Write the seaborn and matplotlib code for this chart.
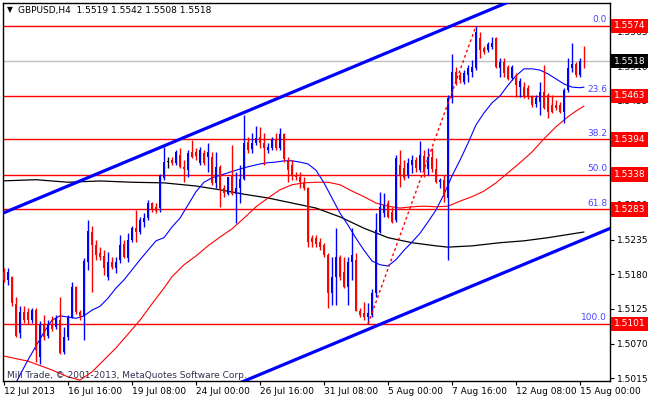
import matplotlib
matplotlib.use("Agg")
import matplotlib.pyplot as plt
import matplotlib.transforms as mtransforms
import numpy as np
import pandas as pd
import seaborn as sns

sns.set_style("white")
plt.rcParams['font.family'] = ['DejaVu Sans']

# ---------------- data (GBPUSD H4, bar index 0 = 12 Jul 2013 00:00) ----------------
opens = [1.5184, 1.5171, 1.5176, 1.5133, 1.5086, 1.5120, 1.5120, 1.5107, 1.5123, 1.5049,
         1.5099, 1.5082, 1.5101, 1.5096, 1.5107, 1.5057, 1.5081, 1.5112, 1.5160, 1.5120,
         1.5114, 1.5200, 1.5247, 1.5226, 1.5214, 1.5209, 1.5176, 1.5200, 1.5190, 1.5203,
         1.5228, 1.5206, 1.5234, 1.5253, 1.5247, 1.5263, 1.5269, 1.5293, 1.5287, 1.5285,
         1.5333, 1.5358, 1.5361, 1.5356, 1.5369, 1.5350, 1.5345, 1.5374, 1.5374, 1.5356,
         1.5372, 1.5366, 1.5366, 1.5325, 1.5350, 1.5317, 1.5307, 1.5337, 1.5307, 1.5317,
         1.5331, 1.5390, 1.5379, 1.5388, 1.5398, 1.5388, 1.5377, 1.5380, 1.5395, 1.5380,
         1.5403, 1.5361, 1.5353, 1.5337, 1.5334, 1.5325, 1.5317, 1.5237, 1.5237, 1.5231,
         1.5226, 1.5211, 1.5150, 1.5176, 1.5207, 1.5184, 1.5160, 1.5200, 1.5203, 1.5121,
         1.5118, 1.5112, 1.5115, 1.5150, 1.5247, 1.5277, 1.5293, 1.5279, 1.5266, 1.5353,
         1.5349, 1.5337, 1.5353, 1.5361, 1.5345, 1.5368, 1.5347, 1.5366, 1.5347, 1.5326,
         1.5330, 1.5301, 1.5460, 1.5501, 1.5496, 1.5485, 1.5496, 1.5501, 1.5507, 1.5555,
         1.5539, 1.5536, 1.5541, 1.5555, 1.5507, 1.5517, 1.5509, 1.5491, 1.5491, 1.5477,
         1.5477, 1.5476, 1.5461, 1.5450, 1.5453, 1.5469, 1.5464, 1.5449, 1.5449, 1.5449,
         1.5437, 1.5472, 1.5507, 1.5514, 1.5496, 1.5519]
highs = [1.5190, 1.5190, 1.5177, 1.5144, 1.5129, 1.5129, 1.5126, 1.5126, 1.5126, 1.5105,
         1.5115, 1.5107, 1.5114, 1.5115, 1.5144, 1.5096, 1.5115, 1.5168, 1.5161, 1.5123,
         1.5206, 1.5266, 1.5256, 1.5234, 1.5223, 1.5218, 1.5215, 1.5207, 1.5207, 1.5242,
         1.5234, 1.5245, 1.5256, 1.5282, 1.5271, 1.5277, 1.5298, 1.5295, 1.5293, 1.5339,
         1.5382, 1.5366, 1.5366, 1.5377, 1.5380, 1.5361, 1.5377, 1.5393, 1.5380, 1.5382,
         1.5377, 1.5388, 1.5374, 1.5374, 1.5353, 1.5322, 1.5334, 1.5385, 1.5342, 1.5353,
         1.5433, 1.5398, 1.5404, 1.5415, 1.5414, 1.5404, 1.5388, 1.5398, 1.5404, 1.5412,
         1.5404, 1.5366, 1.5361, 1.5342, 1.5342, 1.5334, 1.5318, 1.5242, 1.5242, 1.5237,
         1.5229, 1.5214, 1.5207, 1.5253, 1.5211, 1.5207, 1.5207, 1.5253, 1.5214, 1.5126,
         1.5136, 1.5134, 1.5157, 1.5277, 1.5310, 1.5309, 1.5298, 1.5287, 1.5369, 1.5377,
         1.5361, 1.5364, 1.5369, 1.5366, 1.5391, 1.5377, 1.5380, 1.5380, 1.5364, 1.5333,
         1.5337, 1.5464, 1.5530, 1.5509, 1.5501, 1.5504, 1.5512, 1.5520, 1.5574, 1.5564,
         1.5542, 1.5549, 1.5557, 1.5557, 1.5523, 1.5523, 1.5512, 1.5512, 1.5499, 1.5491,
         1.5485, 1.5480, 1.5464, 1.5464, 1.5485, 1.5512, 1.5467, 1.5464, 1.5456, 1.5453,
         1.5476, 1.5523, 1.5547, 1.5517, 1.5523, 1.5542]
lows = [1.5168, 1.5163, 1.5129, 1.5081, 1.5079, 1.5102, 1.5101, 1.5102, 1.5041, 1.5038,
        1.5076, 1.5079, 1.5090, 1.5093, 1.5053, 1.5053, 1.5076, 1.5110, 1.5117, 1.5107,
        1.5076, 1.5187, 1.5152, 1.5203, 1.5203, 1.5179, 1.5171, 1.5189, 1.5182, 1.5198,
        1.5206, 1.5200, 1.5231, 1.5231, 1.5244, 1.5255, 1.5266, 1.5279, 1.5277, 1.5279,
        1.5330, 1.5349, 1.5353, 1.5353, 1.5349, 1.5326, 1.5334, 1.5364, 1.5361, 1.5353,
        1.5353, 1.5342, 1.5322, 1.5317, 1.5287, 1.5303, 1.5306, 1.5306, 1.5261, 1.5293,
        1.5330, 1.5372, 1.5372, 1.5385, 1.5380, 1.5353, 1.5372, 1.5377, 1.5377, 1.5377,
        1.5358, 1.5326, 1.5330, 1.5330, 1.5317, 1.5314, 1.5223, 1.5223, 1.5223, 1.5218,
        1.5207, 1.5126, 1.5131, 1.5131, 1.5171, 1.5158, 1.5131, 1.5171, 1.5121, 1.5112,
        1.5107, 1.5101, 1.5112, 1.5144, 1.5245, 1.5271, 1.5269, 1.5261, 1.5263, 1.5318,
        1.5330, 1.5333, 1.5341, 1.5342, 1.5342, 1.5334, 1.5337, 1.5342, 1.5325, 1.5317,
        1.5295, 1.5203, 1.5452, 1.5480, 1.5484, 1.5482, 1.5485, 1.5493, 1.5504, 1.5523,
        1.5530, 1.5533, 1.5537, 1.5507, 1.5493, 1.5493, 1.5488, 1.5488, 1.5461, 1.5461,
        1.5460, 1.5458, 1.5445, 1.5445, 1.5433, 1.5442, 1.5428, 1.5436, 1.5441, 1.5436,
        1.5420, 1.5469, 1.5501, 1.5493, 1.5493, 1.5508]
closes = [1.5171, 1.5184, 1.5134, 1.5082, 1.5120, 1.5107, 1.5107, 1.5123, 1.5060, 1.5099,
          1.5081, 1.5101, 1.5093, 1.5110, 1.5055, 1.5081, 1.5112, 1.5160, 1.5120, 1.5114,
          1.5201, 1.5249, 1.5226, 1.5211, 1.5207, 1.5190, 1.5200, 1.5192, 1.5200, 1.5226,
          1.5207, 1.5234, 1.5253, 1.5247, 1.5266, 1.5269, 1.5293, 1.5282, 1.5280, 1.5337,
          1.5358, 1.5358, 1.5356, 1.5374, 1.5350, 1.5347, 1.5372, 1.5366, 1.5368, 1.5377,
          1.5356, 1.5374, 1.5325, 1.5350, 1.5314, 1.5309, 1.5334, 1.5307, 1.5317, 1.5331,
          1.5388, 1.5377, 1.5388, 1.5396, 1.5388, 1.5380, 1.5382, 1.5395, 1.5380, 1.5403,
          1.5363, 1.5345, 1.5337, 1.5334, 1.5326, 1.5317, 1.5231, 1.5231, 1.5228, 1.5223,
          1.5211, 1.5150, 1.5176, 1.5207, 1.5176, 1.5160, 1.5200, 1.5211, 1.5121, 1.5115,
          1.5112, 1.5118, 1.5150, 1.5250, 1.5287, 1.5290, 1.5271, 1.5263, 1.5364, 1.5337,
          1.5333, 1.5356, 1.5361, 1.5349, 1.5369, 1.5344, 1.5366, 1.5347, 1.5326, 1.5330,
          1.5303, 1.5460, 1.5501, 1.5485, 1.5488, 1.5499, 1.5507, 1.5509, 1.5564, 1.5536,
          1.5533, 1.5545, 1.5547, 1.5509, 1.5517, 1.5499, 1.5490, 1.5509, 1.5480, 1.5487,
          1.5461, 1.5461, 1.5449, 1.5460, 1.5469, 1.5444, 1.5437, 1.5437, 1.5444, 1.5437,
          1.5472, 1.5507, 1.5514, 1.5496, 1.5518, 1.5518]

# moving averages (bar index, value)
ma_fast_idx = [2, 4, 6, 8, 10, 12, 14, 16, 18, 20, 22, 24, 26, 28, 30, 32, 34, 36, 38, 40,
               42, 44, 46, 48, 50, 52, 54, 56, 58, 60, 62, 64, 66, 68, 70, 72, 74, 76, 78, 80,
               82, 84, 86, 88, 90, 92, 94, 96, 98, 100, 102, 104, 106, 108, 110, 112, 114, 116,
               118, 120, 122, 124, 126, 128, 130, 132, 134, 136, 138, 140, 142, 144, 145]
ma_fast = [1.4996, 1.5020, 1.5044, 1.5066, 1.5088, 1.5107, 1.5114, 1.5112, 1.5110, 1.5114,
           1.5123, 1.5129, 1.5142, 1.5158, 1.5171, 1.5187, 1.5203, 1.5218, 1.5233, 1.5238,
           1.5255, 1.5269, 1.5290, 1.5311, 1.5326, 1.5333, 1.5337, 1.5341, 1.5345, 1.5349,
           1.5352, 1.5355, 1.5357, 1.5358, 1.5360, 1.5360, 1.5358, 1.5355, 1.5345, 1.5325,
           1.5301, 1.5277, 1.5258, 1.5237, 1.5218, 1.5201, 1.5195, 1.5193, 1.5203, 1.5218,
           1.5231, 1.5245, 1.5263, 1.5282, 1.5307, 1.5336, 1.5361, 1.5388, 1.5417, 1.5436,
           1.5452, 1.5463, 1.5480, 1.5495, 1.5506, 1.5506, 1.5504, 1.5498, 1.5490, 1.5482,
           1.5477, 1.5476, 1.5477]
ma_mid_idx = [0, 6, 12, 16, 19, 22, 25, 28, 31, 34, 37, 40, 42, 45, 48, 51, 54, 57, 60, 63,
              66, 69, 72, 75, 78, 81, 84, 87, 90, 93, 96, 99, 102, 105, 108, 111, 114, 117,
              120, 123, 126, 129, 132, 135, 138, 141, 143, 145]
ma_mid = [1.5050, 1.5042, 1.5028, 1.5017, 1.5012, 1.5025, 1.5044, 1.5063, 1.5085, 1.5107,
          1.5133, 1.5158, 1.5176, 1.5195, 1.5209, 1.5225, 1.5239, 1.5252, 1.5269, 1.5287,
          1.5301, 1.5314, 1.5322, 1.5325, 1.5326, 1.5326, 1.5322, 1.5312, 1.5303, 1.5293,
          1.5288, 1.5285, 1.5287, 1.5288, 1.5287, 1.5288, 1.5296, 1.5303, 1.5312, 1.5325,
          1.5341, 1.5357, 1.5374, 1.5395, 1.5414, 1.5430, 1.5439, 1.5447]
ma_slow_idx = [-1, 8, 16, 24, 32, 40, 48, 54, 60, 66, 72, 78, 84, 90, 96, 102, 108, 111,
               117, 124, 130, 136, 142, 145]
ma_slow = [1.5328, 1.5330, 1.5326, 1.5328, 1.5326, 1.5325, 1.5320, 1.5314, 1.5307, 1.5301,
           1.5293, 1.5285, 1.5271, 1.5253, 1.5238, 1.5230, 1.5225, 1.5223, 1.5225, 1.5230,
           1.5233, 1.5238, 1.5244, 1.5247]

# channel trend lines and Fibonacci swing
upper_channel_idx = [-1, 131]
upper_channel = [1.5275, 1.5625]
lower_channel_idx = [58, 152]
lower_channel = [1.5005, 1.5254]
fib_swing_idx = [91, 118]
fib_swing = [1.5101, 1.5574]

fib_ratios = ["0.0", "23.6", "38.2", "50.0", "61.8", "100.0"]
fib_prices = [1.5574, 1.5463, 1.5394, 1.5338, 1.5283, 1.5101]
current_price = 1.5518

price_ticks = [1.5015, 1.5070, 1.5125, 1.5180, 1.5235, 1.5290, 1.5345, 1.5400,
               1.5455, 1.5510, 1.5565]
date_ticks = [0, 16, 32, 48, 64, 80, 96, 112, 128, 144]
date_labels = ["12 Jul 2013", "16 Jul 16:00", "19 Jul 08:00", "24 Jul 00:00",
               "26 Jul 16:00", "31 Jul 08:00", "5 Aug 00:00", "7 Aug 16:00",
               "12 Aug 08:00", "15 Aug 00:00"]

title = "GBPUSD,H4  1.5519 1.5542 1.5508 1.5518"
footer = "Mill Trade, \u00a9 2001-2013, MetaQuotes Software Corp."

# ---------------- figure ----------------
W, H = 650, 400
fig = plt.figure(figsize=(W / 100, H / 100), dpi=100)
fig.patch.set_facecolor("white")
ax = fig.add_axes([3 / W, 19 / H, 607 / W, 378 / H])
ax.set_facecolor("white")

BLUE = "#0000FF"
RED = "#FF0000"

df = pd.DataFrame({"o": opens, "h": highs, "l": lows, "c": closes})
df["i"] = np.arange(len(df))
cols = np.where(df["c"] > df["o"], BLUE, np.where(df["c"] < df["o"], RED, "#000000"))
body_lo = np.minimum(df["o"], df["c"])
body_h = np.maximum(np.abs(df["c"] - df["o"]), 0.00012)

# fib & current price lines
for p in fib_prices:
    ax.axhline(p, color=RED, lw=1.0, zorder=1)
ax.axhline(current_price, color="#C0C0C0", lw=1.0, zorder=1)

# candles
ax.vlines(df["i"], df["l"], df["h"], colors=cols, lw=1.0, zorder=3)
ax.bar(df["i"], body_h, bottom=body_lo, width=0.72, color=cols, lw=0, zorder=4)

# moving averages via seaborn
sns.lineplot(x=ma_slow_idx, y=ma_slow, color="#000000", lw=0.9, ax=ax, zorder=2)
sns.lineplot(x=ma_mid_idx, y=ma_mid, color=RED, lw=0.8, ax=ax, zorder=2)
sns.lineplot(x=ma_fast_idx, y=ma_fast, color=BLUE, lw=0.8, ax=ax, zorder=2)

# channel & fib swing
ax.plot(upper_channel_idx, upper_channel, color=BLUE, lw=2.3, zorder=5, solid_capstyle="butt")
ax.plot(lower_channel_idx, lower_channel, color=BLUE, lw=2.3, zorder=5, solid_capstyle="butt")
ax.plot(fib_swing_idx, fib_swing, color=RED, lw=1.0, ls=(0, (2, 2)), zorder=5)

ax.set_xlim(-0.25, 151.5)
ax.set_ylim(1.50105, 1.56105)

# axes styling
for s in ax.spines.values():
    s.set_color("black")
    s.set_linewidth(1.0)
ax.yaxis.tick_right()
ax.set_yticks(price_ticks)
ax.set_yticklabels([f"{v:.4f}" for v in price_ticks])
ax.set_xticks(date_ticks)
ax.set_xticklabels(date_labels)
ax.tick_params(axis="y", direction="out", length=3, width=0.8, pad=2,
               labelsize=6.5, colors="black", right=True, left=False)
ax.tick_params(axis="x", direction="out", length=3, width=0.8, pad=1.5,
               labelsize=6.5, colors="black", bottom=True)
for lbl in ax.get_xticklabels():
    lbl.set_horizontalalignment("left")
ax.set_xlabel("")
ax.set_ylabel("")
ax.grid(False)

# fib level labels
tr_lab = mtransforms.blended_transform_factory(fig.transFigure, ax.transData)
off = mtransforms.offset_copy(tr_lab, fig=fig, x=0, y=1.5, units="dots")
for r, p in zip(fib_ratios, fib_prices):
    ax.text(607 / W, p, r, transform=off, ha="right", va="bottom",
            fontsize=6.5, color="#4646FF", zorder=6, clip_on=False)

# price boxes on the right scale
for p in fib_prices:
    ax.text(614 / W, p, f"{p:.4f}", transform=tr_lab, ha="left", va="center",
            fontsize=6.5, color="white", zorder=7, clip_on=False,
            bbox=dict(boxstyle="square,pad=0.3", facecolor=RED, edgecolor="none"))
ax.text(614 / W, current_price, f"{current_price:.4f}", transform=tr_lab, ha="left",
        va="center", fontsize=6.5, color="white", zorder=7, clip_on=False,
        bbox=dict(boxstyle="square,pad=0.3", facecolor="#000000", edgecolor="none"))

# title and footer
fig.text(7 / W, 1 - 10 / H, "\u25BC", fontsize=5.5, color="black", ha="left", va="center")
fig.text(18 / W, 1 - 10 / H, title, fontsize=6.5, color="black", ha="left", va="center")
fig.text(7 / W, 1 - 375 / H, footer, fontsize=6.5, color="#303050", ha="left", va="center")

fig.savefig("out.png", dpi=100, facecolor="white")
